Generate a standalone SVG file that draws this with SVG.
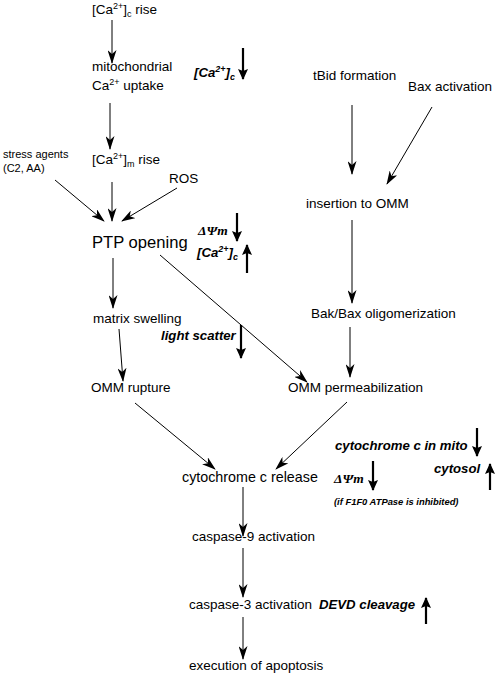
<svg xmlns="http://www.w3.org/2000/svg" width="496" height="675" viewBox="0 0 496 675">
<style>
text{font-family:"Liberation Sans",Arial,sans-serif;fill:#000}
.n{font-size:13.5px}
.big{font-size:16.6px}
.sm{font-size:11px}
.bi{font-size:13.2px;font-weight:bold;font-style:italic}
.psi{font-family:"Liberation Serif","Times New Roman",serif;font-size:13.5px;font-weight:bold;font-style:italic}
.tiny{font-size:9.4px;font-weight:bold;font-style:italic}
.c{stroke:#000;stroke-width:1;fill:none;marker-end:url(#ah)}
.ind{stroke:#000;stroke-width:2.2;fill:none;marker-end:url(#bh)}
</style>
<defs>
<marker id="ah" viewBox="0 0 14 9" markerUnits="userSpaceOnUse" markerWidth="14" markerHeight="9" refX="13" refY="4.5" orient="auto">
<path d="M0,0 L14,4.5 L0,9 L4,4.5 z" fill="#000"/>
</marker>
<marker id="bh" viewBox="0 0 11 10" markerUnits="userSpaceOnUse" markerWidth="11" markerHeight="10" refX="10" refY="5" orient="auto">
<path d="M0,0 L11,5 L0,10 L2,5 z" fill="#000"/>
</marker>
</defs>
<g id="connectors">
<line class="c" x1="112" y1="20" x2="112" y2="63"/>
<line class="c" x1="110" y1="103" x2="110" y2="149"/>
<line class="c" x1="55" y1="180" x2="104" y2="221"/>
<line class="c" x1="112" y1="182" x2="112" y2="221"/>
<line class="c" x1="177" y1="188" x2="122" y2="221"/>
<line class="c" x1="113" y1="258" x2="113" y2="308"/>
<line class="c" x1="160" y1="255" x2="307" y2="382"/>
<line class="c" x1="119" y1="329" x2="123" y2="381"/>
<line class="c" x1="352" y1="105" x2="352" y2="174"/>
<line class="c" x1="432" y1="107" x2="387" y2="184"/>
<line class="c" x1="352" y1="220" x2="352" y2="303"/>
<line class="c" x1="350" y1="327" x2="350" y2="377"/>
<line class="c" x1="135" y1="403" x2="215" y2="469"/>
<line class="c" x1="347" y1="402" x2="276" y2="469"/>
<line class="c" x1="243" y1="487" x2="243" y2="536"/>
<line class="c" x1="243" y1="548" x2="243" y2="597"/>
<line class="c" x1="243" y1="617" x2="243" y2="659"/>
</g>
<g id="indicators">
<line class="ind" x1="243" y1="48" x2="243" y2="79"/>
<line class="ind" x1="237" y1="213" x2="237" y2="241"/>
<line class="ind" x1="247" y1="273" x2="247" y2="245"/>
<line class="ind" x1="241" y1="325" x2="241" y2="358"/>
<line class="ind" x1="477" y1="428" x2="477" y2="456"/>
<line class="ind" x1="373" y1="461" x2="373" y2="490"/>
<line class="ind" x1="490" y1="490" x2="490" y2="464"/>
<line class="ind" x1="426" y1="624" x2="426" y2="598"/>
</g>
<g id="ca-rise"><text class="n" x="92" y="14">[Ca<tspan font-size="9" dy="-5">2+</tspan><tspan dy="5">]</tspan><tspan font-size="9" dy="3">c</tspan><tspan dy="-3"> rise</tspan></text></g>
<g id="mito-uptake"><text class="n" x="92" y="71">mitochondrial</text><text class="n" x="92" y="90">Ca<tspan font-size="9" dy="-5">2+</tspan><tspan dy="5"> uptake</tspan></text></g>
<g id="ca-c-down"><text class="bi" x="194" y="77">[Ca<tspan font-size="9" dy="-5">2+</tspan><tspan dy="5">]</tspan><tspan font-size="9" dy="3">c</tspan></text></g>
<g id="stress"><text class="sm" x="3" y="158">stress agents</text><text class="sm" x="3" y="172">(C2, AA)</text></g>
<g id="ca-m-rise"><text class="n" x="92" y="164">[Ca<tspan font-size="9" dy="-5">2+</tspan><tspan dy="5">]</tspan><tspan font-size="9" dy="3">m</tspan><tspan dy="-3"> rise</tspan></text></g>
<g id="ros"><text class="n" x="169" y="183">ROS</text></g>
<g id="ptp"><text class="big" x="92" y="248">PTP opening</text></g>
<g id="psi1"><text class="psi" x="198" y="235">ΔΨm</text></g>
<g id="ca-c-up"><text class="bi" x="197" y="257">[Ca<tspan font-size="9" dy="-5">2+</tspan><tspan dy="5">]</tspan><tspan font-size="9" dy="3">c</tspan></text></g>
<g id="matrix"><text class="n" x="93" y="323">matrix swelling</text></g>
<g id="light"><text class="bi" x="161" y="340">light scatter</text></g>
<g id="omm-rupture"><text class="n" x="91" y="392">OMM rupture</text></g>
<g id="tbid"><text class="n" x="313" y="80">tBid formation</text></g>
<g id="bax"><text class="n" x="408" y="91">Bax activation</text></g>
<g id="insertion"><text class="n" x="306" y="208">insertion to OMM</text></g>
<g id="bakbax"><text class="n" x="311" y="318">Bak/Bax oligomerization</text></g>
<g id="omm-perm"><text class="n" x="288" y="392">OMM permeabilization</text></g>
<g id="cytc"><text class="n" x="182" y="482" style="font-size:14.3px">cytochrome c release</text></g>
<g id="cytc-mito"><text class="bi" x="335" y="450">cytochrome c in mito</text></g>
<g id="cytosol"><text class="bi" x="434" y="473">cytosol</text></g>
<g id="psi2"><text class="psi" x="334" y="483">ΔΨm</text></g>
<g id="f1f0"><text class="tiny" x="334" y="505">(if F1F0 ATPase is inhibited)</text></g>
<g id="casp9"><text class="n" x="192" y="541">caspase-9 activation</text></g>
<g id="casp3"><text class="n" x="189" y="609">caspase-3 activation</text></g>
<g id="devd"><text class="bi" x="319" y="609">DEVD cleavage</text></g>
<g id="exec"><text class="n" x="189" y="670">execution of apoptosis</text></g>
</svg>
